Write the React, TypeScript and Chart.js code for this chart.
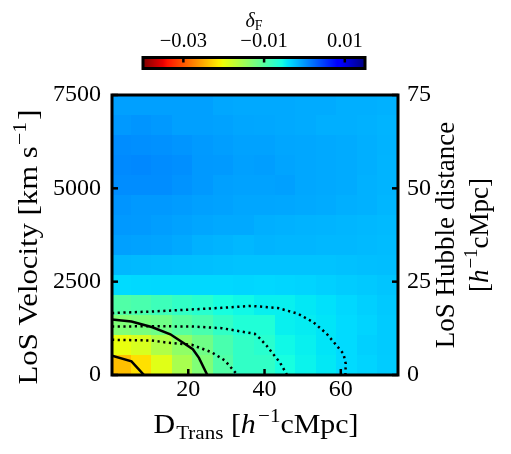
import React, { useEffect, useRef } from 'react';
import { Chart, registerables } from 'chart.js';

Chart.register(...registerables);

const FAM = "'Liberation Serif', 'Times New Roman', serif";

// Bin edges of the 2D map
const transEdges = [-0.5, 4.89, 10.29, 15.68, 21.07, 26.46, 31.86, 37.25, 42.64, 48.04, 53.43, 58.82, 64.21, 69.61, 75];
const velocityEdges = [0, 536, 1071, 1607, 2143, 2679, 3214, 3750, 4286, 4821, 5357, 5893, 6429, 6964, 7500];

// delta_F per cell; rows listed from the highest velocity bin (top) to the lowest (bottom)
const deltaF: number[][] = [
  [-0.0005, -0.0005, -0.0005, -0.0005, -0.0005, -0.0009, -0.0010, -0.0010, -0.0010, -0.0011, -0.0011, -0.0013, -0.0013, -0.0014],
  [-0.0001, 0.0001, -0.0001, -0.0005, -0.0005, -0.0006, -0.0008, -0.0009, -0.0010, -0.0011, -0.0013, -0.0013, -0.0014, -0.0016],
  [0.0005, 0.0004, 0.0003, 0.0001, -0.0002, -0.0004, -0.0006, -0.0006, -0.0008, -0.0009, -0.0010, -0.0011, -0.0013, -0.0015],
  [0.0007, 0.0008, 0.0006, 0.0004, -0.0001, -0.0002, -0.0005, -0.0004, -0.0007, -0.0009, -0.0010, -0.0011, -0.0013, -0.0016],
  [0.0005, 0.0005, 0.0005, 0.0002, -0.0001, -0.0005, -0.0006, -0.0006, -0.0005, -0.0009, -0.0010, -0.0011, -0.0014, -0.0016],
  [0.0001, -0.0001, -0.0001, -0.0003, -0.0005, -0.0006, -0.0008, -0.0008, -0.0009, -0.0010, -0.0011, -0.0013, -0.0014, -0.0017],
  [-0.0001, -0.0002, -0.0004, -0.0006, -0.0008, -0.0010, -0.0010, -0.0013, -0.0014, -0.0015, -0.0016, -0.0017, -0.0018, -0.0019],
  [-0.0005, -0.0006, -0.0007, -0.0010, -0.0014, -0.0016, -0.0018, -0.0016, -0.0017, -0.0017, -0.0018, -0.0018, -0.0019, -0.0020],
  [-0.0018, -0.0019, -0.0020, -0.0021, -0.0022, -0.0023, -0.0024, -0.0024, -0.0024, -0.0024, -0.0024, -0.0023, -0.0022, -0.0021],
  [-0.0037, -0.0036, -0.0035, -0.0035, -0.0035, -0.0035, -0.0034, -0.0035, -0.0034, -0.0033, -0.0031, -0.0029, -0.0027, -0.0025],
  [-0.0096, -0.0091, -0.0083, -0.0075, -0.0069, -0.0058, -0.0053, -0.0048, -0.0048, -0.0044, -0.0040, -0.0035, -0.0031, -0.0027],
  [-0.0128, -0.0123, -0.0117, -0.0101, -0.0091, -0.0075, -0.0064, -0.0064, -0.0048, -0.0046, -0.0042, -0.0037, -0.0033, -0.0028],
  [-0.0198, -0.0187, -0.0160, -0.0139, -0.0117, -0.0091, -0.0075, -0.0069, -0.0053, -0.0048, -0.0042, -0.0037, -0.0031, -0.0028],
  [-0.0239, -0.0220, -0.0192, -0.0155, -0.0128, -0.0096, -0.0075, -0.0075, -0.0058, -0.0050, -0.0044, -0.0037, -0.0033, -0.0029],
];

// Contours (solid)
const solidOuterX = [0, 5.1, 10.6, 15.3, 21.2, 22.8, 25.0];
const solidOuterY = [1490, 1435, 1280, 1090, 690, 460, 0];
const solidInnerX = [0, 5.1, 8.4];
const solidInnerY = [515, 365, 0];
// Contours (dotted)
const dottedAX = [0, 10.4, 20.9, 28.8, 36.6, 43.5, 48.8, 52.8, 56.3, 58.9, 60.7, 61.3, 61.2];
const dottedAY = [1660, 1700, 1755, 1800, 1850, 1795, 1640, 1415, 1104, 790, 568, 300, 0];
const dottedBX = [0, 10.4, 20.9, 28.8, 34.9, 37.4, 38.7, 40.5, 42.2, 44.0, 45.9];
const dottedBY = [1300, 1305, 1300, 1254, 1147, 1104, 986, 790, 568, 343, 0];
const dottedCX = [0, 10.4, 14.8, 20.9, 26.1, 29.6, 32.9];
const dottedCY = [943, 924, 862, 809, 611, 388, 0];

const transTicks = [20, 40, 60];
const velocityTicks = [0, 2500, 5000, 7500];
const hubbleTicks = [0, 25, 50, 75];
const colorbarTicks = [-0.03, -0.01, 0.01];
const colorMin = -0.04;
const colorMax = 0.015;

const JET_R = [[0, 0], [0.35, 0], [0.66, 1], [0.89, 1], [1, 0.5]];
const JET_G = [[0, 0], [0.125, 0], [0.375, 1], [0.64, 1], [0.91, 0], [1, 0]];
const JET_B = [[0, 0.5], [0.11, 1], [0.34, 1], [0.65, 0], [1, 0]];

function seg(s: number[][], t: number) {
  for (let i = 0; i < s.length - 1; i++) {
    const [x0, y0] = s[i];
    const [x1, y1] = s[i + 1];
    if (t <= x1) return y0 + ((y1 - y0) * (t - x0)) / (x1 - x0);
  }
  return s[s.length - 1][1];
}

function colorFor(v: number) {
  let s = (v - colorMin) / (colorMax - colorMin);
  s = Math.max(0, Math.min(1, s));
  const t = 1 - s; // reversed jet
  const r = Math.round(255 * seg(JET_R, t));
  const g = Math.round(255 * seg(JET_G, t));
  const b = Math.round(255 * seg(JET_B, t));
  return `rgb(${r},${g},${b})`;
}

type Run = { text: string; font: string; dy?: number; dx?: number };

function drawRuns(ctx: CanvasRenderingContext2D, runs: Run[], cx: number, y: number, target?: number) {
  let total = 0;
  runs.forEach((r) => {
    ctx.font = r.font;
    total += ctx.measureText(r.text).width + (r.dx || 0);
  });
  ctx.save();
  ctx.translate(cx, y);
  if (target) ctx.scale(target / total, 1);
  let x = -total / 2;
  ctx.textAlign = 'left';
  ctx.textBaseline = 'alphabetic';
  runs.forEach((r) => {
    ctx.font = r.font;
    x += (r.dx || 0);
    ctx.fillText(r.text, x, r.dy || 0);
    x += ctx.measureText(r.text).width;
  });
  ctx.restore();
}

const F_MAIN = `27px ${FAM}`;
const F_IT = `italic 27px ${FAM}`;
const F_SUP = `19px ${FAM}`;

const heatmapPlugin = {
  id: 'heatmap',
  beforeDatasetsDraw(chart: any) {
    const { ctx, chartArea: a, scales } = chart;
    const xs = scales.x;
    const ys = scales.y;
    ctx.save();
    ctx.beginPath();
    ctx.rect(a.left, a.top, a.right - a.left, a.bottom - a.top);
    ctx.clip();
    const n = deltaF.length;
    deltaF.forEach((row, r) => {
      const vLo = velocityEdges[n - 1 - r];
      const vHi = velocityEdges[n - r];
      const y0 = Math.round(ys.getPixelForValue(vHi));
      const y1 = Math.round(ys.getPixelForValue(vLo));
      row.forEach((val, c) => {
        const x0 = Math.round(xs.getPixelForValue(transEdges[c]));
        const x1 = Math.round(xs.getPixelForValue(transEdges[c + 1]));
        ctx.fillStyle = colorFor(val);
        ctx.fillRect(x0, y0, x1 - x0, y1 - y0);
      });
    });
    ctx.restore();
  },
};

const framePlugin = {
  id: 'frame',
  afterDraw(chart: any) {
    const { ctx, chartArea: a, scales } = chart;
    ctx.save();
    ctx.strokeStyle = '#000';
    ctx.fillStyle = '#000';
    ctx.lineWidth = 2.5;
    const L = 6;
    const line = (x0: number, y0: number, x1: number, y1: number) => {
      ctx.beginPath();
      ctx.moveTo(x0, y0);
      ctx.lineTo(x1, y1);
      ctx.stroke();
    };
    transTicks.forEach((v) => {
      const px = scales.x.getPixelForValue(v);
      line(px, a.bottom, px, a.bottom - L);
    });
    velocityTicks.forEach((v) => {
      const py = scales.y.getPixelForValue(v);
      line(a.left, py, a.left + L, py);
    });
    hubbleTicks.forEach((v) => {
      const py = scales.y2.getPixelForValue(v);
      line(a.right, py, a.right - L, py);
    });
    ctx.lineWidth = 3;
    ctx.strokeRect(a.left, a.top, a.right - a.left, a.bottom - a.top);

    const cy = (a.top + a.bottom) / 2;
    // left title
    ctx.save();
    ctx.translate(37, cy + 12);
    ctx.rotate(-Math.PI / 2);
    drawRuns(ctx, [
      { text: 'LoS Velocity [km s', font: F_MAIN },
      { text: '\u22121', font: F_SUP, dy: -11, dx: 1 },
      { text: ']', font: F_MAIN, dx: 2 },
    ], 0, 0, 275);
    ctx.restore();
    // right title
    ctx.save();
    ctx.translate(454, cy);
    ctx.rotate(-Math.PI / 2);
    drawRuns(ctx, [{ text: 'LoS Hubble distance', font: F_MAIN }], 0, 0);
    ctx.restore();
    ctx.save();
    ctx.translate(488, cy);
    ctx.rotate(-Math.PI / 2);
    drawRuns(ctx, [
      { text: '[', font: F_MAIN },
      { text: 'h', font: F_IT },
      { text: '\u22121', font: F_SUP, dy: -11, dx: 1 },
      { text: 'cMpc]', font: F_MAIN },
    ], 0, 0);
    ctx.restore();
    // bottom title
    drawRuns(ctx, [
      { text: 'D', font: F_MAIN },
      { text: 'Trans', font: F_SUP, dy: 6, dx: 1 },
      { text: ' [', font: F_MAIN },
      { text: 'h', font: F_IT },
      { text: '\u22121', font: F_SUP, dy: -11, dx: 2 },
      { text: 'cMpc]', font: F_MAIN },
    ], (a.left + a.right) / 2 + 1, 433, 205);
    ctx.restore();
  },
};

const colorbarPlugin = {
  id: 'colorbar',
  beforeDatasetsDraw(chart: any) {
    const { ctx, chartArea: a, scales } = chart;
    const xs = scales.x;
    ctx.save();
    for (let px = Math.floor(a.left); px < Math.ceil(a.right); px++) {
      ctx.fillStyle = colorFor(xs.getValueForPixel(px + 0.5));
      ctx.fillRect(px, a.top, 1, a.bottom - a.top);
    }
    ctx.strokeStyle = '#000';
    ctx.lineWidth = 2.5;
    colorbarTicks.forEach((v) => {
      const px = xs.getPixelForValue(v);
      ctx.beginPath();
      ctx.moveTo(px, a.top);
      ctx.lineTo(px, a.top + 5);
      ctx.stroke();
    });
    ctx.lineWidth = 3;
    ctx.strokeRect(a.left, a.top, a.right - a.left, a.bottom - a.top);
    ctx.fillStyle = '#000';
    drawRuns(ctx, [
      { text: '\u03b4', font: `italic 20px ${FAM}` },
      { text: 'F', font: `14px ${FAM}`, dy: 3 },
    ], (a.left + a.right) / 2, 26.5);
    ctx.restore();
  },
};

function pts(xs: number[], ys: number[]) {
  return xs.map((x, i) => ({ x, y: ys[i] }));
}

export default function App() {
  const mainRef = useRef<HTMLCanvasElement>(null);
  const cbRef = useRef<HTMLCanvasElement>(null);

  useEffect(() => {
    const tickFont = { family: FAM, size: 24 };
    const solid = { borderColor: '#000', borderWidth: 2.5, pointRadius: 0, showLine: true, fill: false, tension: 0 };
    const dotted = { ...solid, borderWidth: 2.5, borderDash: [2.2, 3.5] };
    const main = new Chart(mainRef.current!, {
      type: 'scatter',
      data: {
        datasets: [
          { ...solid, data: pts(solidOuterX, solidOuterY) },
          { ...solid, data: pts(solidInnerX, solidInnerY) },
          { ...dotted, data: pts(dottedAX, dottedAY) },
          { ...dotted, data: pts(dottedBX, dottedBY) },
          { ...dotted, data: pts(dottedCX, dottedCY) },
        ] as any,
      },
      options: {
        animation: false,
        responsive: false,
        devicePixelRatio: 1,
        layout: { padding: { top: 95, left: 0, right: 0, bottom: 0 } },
        plugins: { legend: { display: false }, tooltip: { enabled: false } },
        scales: {
          x: {
            type: 'linear', position: 'bottom', min: 0, max: 75,
            grid: { display: false, drawTicks: false }, border: { display: false },
            ticks: { font: tickFont, color: '#000', padding: 0, maxRotation: 0, callback: (v: any) => String(v) },
            afterBuildTicks: (s: any) => { s.ticks = transTicks.map((v) => ({ value: v })); },
            afterFit: (s: any) => { s.height = 79; },
          },
          y: {
            type: 'linear', position: 'left', min: 0, max: 7500,
            grid: { display: false, drawTicks: false }, border: { display: false },
            ticks: { font: tickFont, color: '#000', padding: 11, callback: (v: any) => String(v) },
            afterBuildTicks: (s: any) => { s.ticks = velocityTicks.map((v) => ({ value: v })); },
            afterFit: (s: any) => { s.width = 112; },
          },
          y2: {
            type: 'linear', position: 'right', min: 0, max: 75,
            grid: { display: false, drawTicks: false }, border: { display: false },
            ticks: { font: tickFont, color: '#000', padding: 9, callback: (v: any) => String(v) },
            afterBuildTicks: (s: any) => { s.ticks = hubbleTicks.map((v) => ({ value: v })); },
            afterFit: (s: any) => { s.width = 113; },
          },
        },
      } as any,
      plugins: [heatmapPlugin, framePlugin],
    });

    const cb = new Chart(cbRef.current!, {
      type: 'scatter',
      data: { datasets: [] },
      options: {
        animation: false,
        responsive: false,
        devicePixelRatio: 1,
        layout: { padding: { top: 0, left: 143, right: 511 - 365, bottom: 80 - 68.5 } },
        plugins: { legend: { display: false }, tooltip: { enabled: false } },
        scales: {
          x: {
            type: 'linear', position: 'top', min: colorMin, max: colorMax,
            grid: { display: false, drawTicks: false }, border: { display: false },
            ticks: {
              font: { family: FAM, size: 20.5 }, color: '#000', padding: 4, maxRotation: 0,
              callback: (v: any) => (v < 0 ? '\u2212' : '') + Math.abs(v).toFixed(2),
            },
            afterBuildTicks: (s: any) => { s.ticks = colorbarTicks.map((v) => ({ value: v })); },
            afterFit: (s: any) => { s.height = 57.5; },
          },
          y: { display: false, min: 0, max: 1 },
        },
      } as any,
      plugins: [colorbarPlugin],
    });

    return () => {
      main.destroy();
      cb.destroy();
    };
  }, []);

  return (
    <div style={{ position: 'fixed', left: 0, top: 0, width: 511, height: 454, background: '#fff' }}>
      <canvas ref={mainRef} width={511} height={454} style={{ position: 'absolute', left: 0, top: 0 }} />
      <canvas ref={cbRef} width={511} height={80} style={{ position: 'absolute', left: 0, top: 0 }} />
    </div>
  );
}
